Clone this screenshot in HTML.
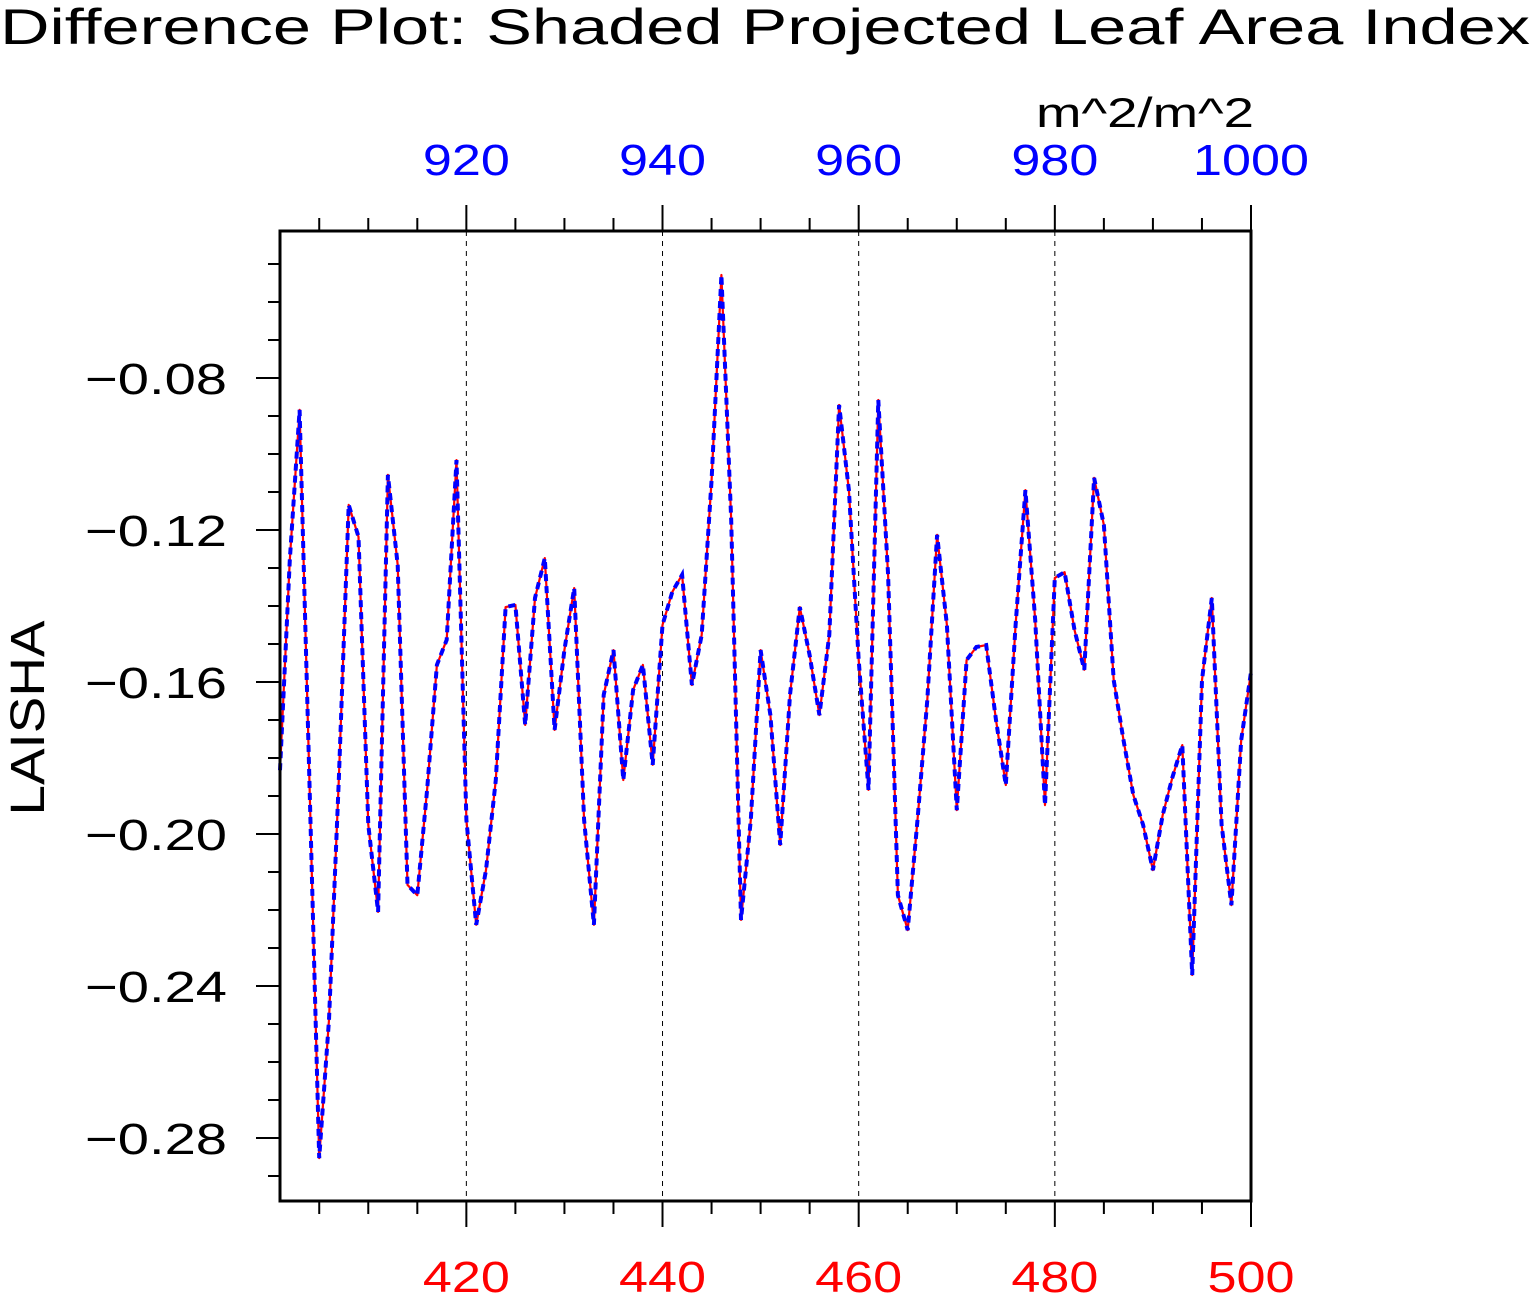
<!DOCTYPE html>
<html><head><meta charset="utf-8"><style>body{margin:0;background:#fff}svg{display:block}</style></head>
<body>
<svg id="chart" width="1532" height="1293" viewBox="0 0 1532 1293" xmlns="http://www.w3.org/2000/svg" font-family="'Liberation Sans', sans-serif">
<text x="0" y="44" font-size="50" textLength="1530" lengthAdjust="spacingAndGlyphs" fill="#000">Difference Plot: Shaded Projected Leaf Area Index</text>
<text x="1036" y="127" font-size="42" textLength="218" lengthAdjust="spacingAndGlyphs" fill="#000">m^2/m^2</text>
<text transform="translate(44,718) rotate(-90)" font-size="48" text-anchor="middle" textLength="195" lengthAdjust="spacingAndGlyphs" fill="#000">LAISHA</text>
<g id="grid"></g><g id="axes"></g><g id="series"></g>
<rect x="280" y="231" width="971" height="970" fill="none" stroke="#000" stroke-width="3"/>
</svg>
<script>
const xStart = 401;
const values = [-0.1832,-0.1279,-0.0884,-0.1858,-0.2853,-0.2489,-0.1858,-0.1134,-0.1218,-0.1976,
-0.2205,-0.1055,-0.1292,-0.2134,-0.2161,-0.1884,-0.1555,-0.1489,-0.1016,-0.1963,
-0.2239,-0.2095,-0.1858,-0.1403,-0.1397,-0.1713,-0.1379,-0.1274,-0.1726,-0.1516,
-0.1353,-0.1963,-0.2239,-0.1634,-0.1516,-0.1858,-0.1621,-0.1555,-0.1818,-0.1450,
-0.1363,-0.1318,-0.1608,-0.1476,-0.1068,-0.0529,-0.1174,-0.2226,-0.1963,-0.1516,
-0.1687,-0.2029,-0.1634,-0.1403,-0.1529,-0.1687,-0.1476,-0.0871,-0.1095,-0.1542,
-0.1884,-0.0858,-0.1318,-0.2161,-0.2253,-0.1963,-0.1647,-0.1213,-0.1450,-0.1937,
-0.1542,-0.1508,-0.1503,-0.1700,-0.1871,-0.1450,-0.1095,-0.1437,-0.1924,-0.1326,
-0.1311,-0.1463,-0.1568,-0.1063,-0.1187,-0.1595,-0.1753,-0.1897,-0.1976,-0.2095,
-0.1950,-0.1850,-0.1766,-0.2371,-0.1595,-0.1379,-0.1976,-0.2187,-0.1753,-0.1574];
const bottomTicks = [420,440,460,480,500];
const topTickLabels = ["920","940","960","980","1000"];
const yTicks = [-0.08,-0.12,-0.16,-0.20,-0.24,-0.28];
const yTickLabels = ["\u22120.08","\u22120.12","\u22120.16","\u22120.20","\u22120.24","\u22120.28"];

const NS="http://www.w3.org/2000/svg";
const X0=280,X1=1251,Y0=231,Y1=1201;
const xMin=401,xMax=500,yMax=-0.08+(378-231)/3800,yMin=-0.08-(1201-378)/3800;
const sx=v=>X0+(v-xMin)/(xMax-xMin)*(X1-X0);
const sy=v=>Y0+(yMax-v)/(yMax-yMin)*(Y1-Y0);
function mk(t,a,p){const e=document.createElementNS(NS,t);for(const k in a)e.setAttribute(k,a[k]);p.appendChild(e);return e;}
const grid=document.getElementById('grid'),axes=document.getElementById('axes'),ser=document.getElementById('series');
bottomTicks.forEach((t,i)=>{
  const x=sx(t);
  if(t<xMax){const g=mk('line',{x1:x,x2:x,y1:Y0,y2:Y1,stroke:'#000','stroke-width':1,'stroke-dasharray':'5 5'},grid);
  
  }
  const bw=String(t).length*29;
  const b=mk('text',{x:x,y:1292,'font-size':44,'text-anchor':'middle',fill:'#f00',textLength:bw,lengthAdjust:'spacingAndGlyphs'},axes);b.textContent=t;
  
  
  const tw=topTickLabels[i].length*29;
  const tp=mk('text',{x:x,y:175,'font-size':44,'text-anchor':'middle',fill:'#00f',textLength:tw,lengthAdjust:'spacingAndGlyphs'},axes);tp.textContent=topTickLabels[i];
  
  
});
for(let v=405;v<=500;v+=5){
  const x=sx(v),maj=v%20===0,L=maj?26:13;
  const a=mk('line',{x1:x,x2:x,y1:Y1,y2:Y1+L,stroke:'#000','stroke-width':2},axes);
  
  
  const b=mk('line',{x1:x,x2:x,y1:Y0,y2:Y0-L,stroke:'#000','stroke-width':2},axes);
  
  
}
for(let k=-29;k<=-5;k++){
  const v=k/100,y=sy(v);if(y<Y0||y>Y1)continue;
  const maj=(k%4===0);
  const l=mk('line',{x1:X0-(maj?24:12),x2:X0,y1:y,y2:y,stroke:'#000','stroke-width':2},axes);
  
  
}
yTicks.forEach((t,i)=>{
  const e=mk('text',{x:85,y:sy(t)+16,'font-size':44,fill:'#000',textLength:142,lengthAdjust:'spacingAndGlyphs'},axes);e.textContent=yTickLabels[i];
  
  
});
const pts=values.map((v,i)=>sx(xStart+i).toFixed(1)+','+sy(v).toFixed(1)).join(' ');
const r=mk('polyline',{points:pts,fill:'none',stroke:'#f00','stroke-width':2.2,'stroke-linejoin':'round'},ser);


const bl=mk('polyline',{points:pts,fill:'none',stroke:'#00f','stroke-width':4,'stroke-dasharray':'7 5'},ser);


</script>
</body></html>
